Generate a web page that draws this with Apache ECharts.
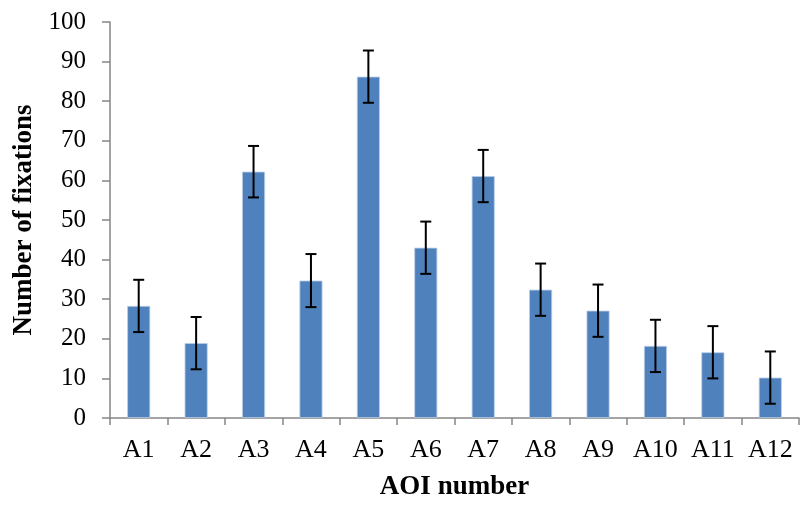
<!DOCTYPE html>
<html>
<head>
<meta charset="utf-8">
<script src="https://cdn.jsdelivr.net/npm/echarts@6/dist/echarts.min.js"></script>
<style>
  html, body { margin: 0; padding: 0; background: #ffffff; }
  #chart { width: 803px; height: 505px; }
</style>
</head>
<body>
<div id="chart"></div>
<script>
// AOI categories, mean fixation counts and their error margins
const categories = ['A1', 'A2', 'A3', 'A4', 'A5', 'A6', 'A7', 'A8', 'A9', 'A10', 'A11', 'A12'];
const fixations = [28.3, 18.9, 62.2, 34.7, 86.2, 43.0, 61.1, 32.4, 27.1, 18.2, 16.6, 10.2];
const errors = [6.6, 6.6, 6.5, 6.7, 6.6, 6.6, 6.6, 6.6, 6.6, 6.6, 6.6, 6.6];
const yTicks = { min: 0, max: 100, interval: 10 };

const errorData = categories.map((c, i) => [i, fixations[i] - errors[i], fixations[i] + errors[i]]);

const serif = '"Liberation Serif", "Times New Roman", serif';
const axisGray = '#868686';

const chart = echarts.init(document.getElementById('chart'), null, { renderer: 'canvas' });

chart.setOption({
  animation: false,
  backgroundColor: '#ffffff',
  grid: { left: 110, right: 4, top: 22, bottom: 87, containLabel: false, outerBoundsMode: 'none' },
  xAxis: {
    type: 'category',
    data: categories,
    name: 'AOI number',
    nameLocation: 'middle',
    nameGap: 56,
    nameTextStyle: { fontFamily: serif, fontSize: 27, fontWeight: 'bold', color: '#000' },
    axisLine: { show: true, lineStyle: { color: axisGray, width: 1.5 } },
    axisTick: { show: true, interval: 0, length: 7, lineStyle: { color: axisGray, width: 1.5 } },
    axisLabel: { interval: 0, fontFamily: serif, fontSize: 26, color: '#000', margin: 19 },
    splitLine: { show: false }
  },
  yAxis: {
    type: 'value',
    min: yTicks.min,
    max: yTicks.max,
    interval: yTicks.interval,
    name: 'Number of fixations',
    nameLocation: 'middle',
    nameGap: 72,
    nameRotate: 90,
    nameTextStyle: { fontFamily: serif, fontSize: 27, fontWeight: 'bold', color: '#000' },
    axisLine: { show: true, lineStyle: { color: axisGray, width: 1.5 } },
    axisTick: { show: true, length: 8, lineStyle: { color: axisGray, width: 1.5 } },
    axisLabel: { fontFamily: serif, fontSize: 25, color: '#000', margin: 24 },
    splitLine: { show: false }
  },
  series: [
    {
      type: 'bar',
      data: fixations,
      barWidth: 23,
      itemStyle: { color: '#4f81bd', borderColor: '#b9cde6', borderWidth: 0.8 },
      z: 2
    },
    {
      type: 'custom',
      data: errorData,
      z: 3,
      renderItem: function (params, api) {
        const x = api.value(0);
        const lo = api.coord([x, api.value(1)]);
        const hi = api.coord([x, api.value(2)]);
        const cap = 5.5;
        const style = { stroke: '#000', lineWidth: 2 };
        return {
          type: 'group',
          children: [
            { type: 'line', shape: { x1: hi[0], y1: hi[1], x2: lo[0], y2: lo[1] }, style: style },
            { type: 'line', shape: { x1: hi[0] - cap, y1: hi[1], x2: hi[0] + cap, y2: hi[1] }, style: style },
            { type: 'line', shape: { x1: lo[0] - cap, y1: lo[1], x2: lo[0] + cap, y2: lo[1] }, style: style }
          ]
        };
      }
    }
  ]
});
</script>
</body>
</html>
